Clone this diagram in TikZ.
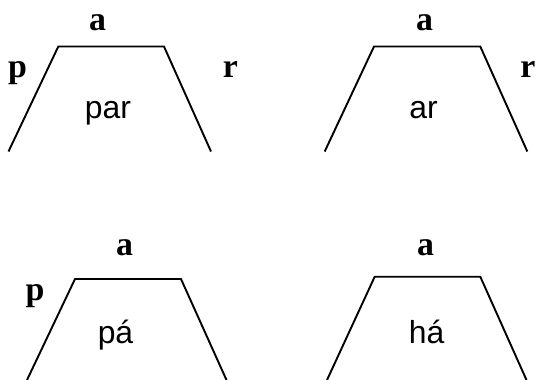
\documentclass[tikz,border=0pt]{standalone}
\usepackage{fontspec}
\setmainfont{Liberation Serif}
\newfontfamily\sansf{Liberation Sans}
\begin{document}
\begin{tikzpicture}[x=1bp,y=-1bp,
  edge/.style={line width=1.9bp,line join=miter},
  lab/.style={font=\fontsize{34}{40}\selectfont\bfseries,anchor=base,inner sep=0pt},
  word/.style={font=\fontsize{32}{38}\selectfont\sansf,anchor=base,inner sep=0pt}]
\useasboundingbox (0,0) rectangle (536,379);
% top left
\coordinate (a1) at (8.5,151.5); \coordinate (b1) at (58.3,46.5);
\coordinate (c1) at (164,46.5); \coordinate (d1) at (211,151.5);
\draw[edge] (a1) -- (b1) -- (c1) -- (d1);
\node[lab] (la1) at (97.5,30) {a};
\node[lab] (lp1) at (17.5,77) {p};
\node[lab] (lr1) at (230.5,77) {r};
\node[word] (w1) at (108,118) {par};
% top right
\coordinate (a2) at (324.7,151.5); \coordinate (b2) at (374,46.5);
\coordinate (c2) at (480.3,46.5); \coordinate (d2) at (527.3,151.5);
\draw[edge] (a2) -- (b2) -- (c2) -- (d2);
\node[lab] (la2) at (424.5,30) {a};
\node[lab] (lr2) at (528,77) {r};
\node[word] (w2) at (423.5,118) {ar};
% bottom left
\coordinate (a3) at (27,380); \coordinate (b3) at (75,279);
\coordinate (c3) at (181,279); \coordinate (d3) at (226.5,380);
\draw[edge] (a3) -- (b3) -- (c3) -- (d3);
\node[lab] (la3) at (124.5,255) {a};
\node[lab] (lp3) at (35,300) {p};
\node[word] (w3) at (115.5,343) {pá};
% bottom right
\coordinate (a4) at (327,380); \coordinate (b4) at (374.7,276.7);
\coordinate (c4) at (480.3,276.7); \coordinate (d4) at (526.5,380);
\draw[edge] (a4) -- (b4) -- (c4) -- (d4);
\node[lab] (la4) at (425.5,255) {a};
\node[word] (w4) at (426.5,343) {há};
\end{tikzpicture}
\end{document}
